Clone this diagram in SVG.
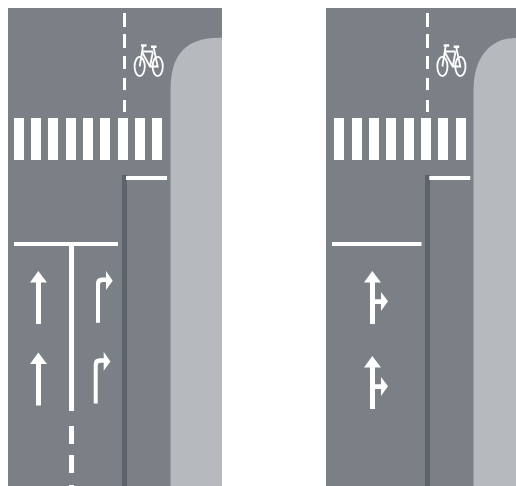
<svg xmlns="http://www.w3.org/2000/svg" width="516" height="486" viewBox="0 0 516 486">
<defs>
<style>
.road{fill:#7a8085}.walk{fill:#b6b9bd}.bar{fill:#5c636a}.w{fill:#fff}
.bike{stroke:#fff;fill:none;stroke-width:1.8}
.bars{stroke:#fff;fill:none;stroke-width:2.4}
</style>
<g id="bike">
<ellipse class="bike" cx="139.7" cy="66.5" rx="5.1" ry="9.6"/>
<ellipse class="bike" cx="157.7" cy="66.5" rx="5.1" ry="9.6"/>
<path class="bike" d="M139.7 66.5L143 46M143 51.5H153M142.5 53L150 66.5H157.7L153.5 47M152.8 52L150 66.5"/>
<path class="bars" d="M141 45.5H146.5M151 46.7H156.5"/>
</g>
<path id="arrowUp" class="w" d="M38.3 271L47 282.5H41V324H36V282.5H30Z"/>
<path id="arrowTurn" class="w" d="M96 322.7V283.5Q96 277.5 102 277.5H106V271L112.7 280.7L106 290V282H103Q100 282 100 285V322.7Z"/>
<path id="arrowBoth" class="w" d="M372.3 271L381 282.5H375V299.3H381V292L388 301.3L381 311V304H375V324H370V282.5H364Z"/>
</defs>
<rect width="516" height="486" fill="#fff"/>
<g id="road-left">
<rect class="road" x="8" y="8" width="214" height="478"/>
<path class="walk" d="M222 37.7H220C185 37.7 170.5 55 170.5 90V486H222Z"/>
<rect class="bar" x="122" y="175" width="5" height="311"/>
<rect class="w" x="126" y="176" width="41" height="4"/>
<path class="w" d="M14 118h10v42H14ZM31 118h10v42H31ZM48 118h10v42H48ZM66 118h10v42H66ZM83 118h10v42H83ZM100 118h10v42H100ZM118 118h10v42H118ZM135 118h10v42H135ZM152 118h10v42H152Z"/>
<path class="w" d="M123 13h3v14h-3ZM123 34h3v14h-3ZM123 56h3v13h-3ZM123 78h3v12h-3ZM123 100h3v12h-3Z"/>
<use href="#bike"/>
<rect class="w" x="14" y="242" width="104" height="4"/>
<path class="w" d="M69 246h5v165h-5ZM69 426h5v18h-5ZM69 455h5v18h-5ZM69 485h5v1h-5Z"/>
<use href="#arrowUp"/>
<use href="#arrowUp" y="81.5"/>
<use href="#arrowTurn"/>
<use href="#arrowTurn" x="-2.3" y="80.7"/>
</g>
<g id="road-right">
<rect class="road" x="326" y="8" width="190" height="478"/>
<path class="walk" d="M516 38C490 38 473.5 58 473.5 90V486H516Z"/>
<rect class="bar" x="425" y="175" width="5" height="311"/>
<rect class="w" x="429.3" y="176" width="41" height="4"/>
<path class="w" d="M334 118h10v42h-10ZM352 118h10v42h-10ZM369 118h10v42h-10ZM386 118h10v42h-10ZM404 118h10v42h-10ZM421 118h10v42h-10ZM438 118h10v42h-10ZM456 118h10v42h-10Z"/>
<path class="w" d="M426 13h3v14h-3ZM426 34h3v14h-3ZM426 56h3v13h-3ZM426 78h3v12h-3ZM426 100h3v12h-3Z"/>
<use href="#bike" x="302.7"/>
<rect class="w" x="332" y="242" width="89.5" height="4"/>
<use href="#arrowBoth"/>
<use href="#arrowBoth" y="85"/>
</g>
</svg>
